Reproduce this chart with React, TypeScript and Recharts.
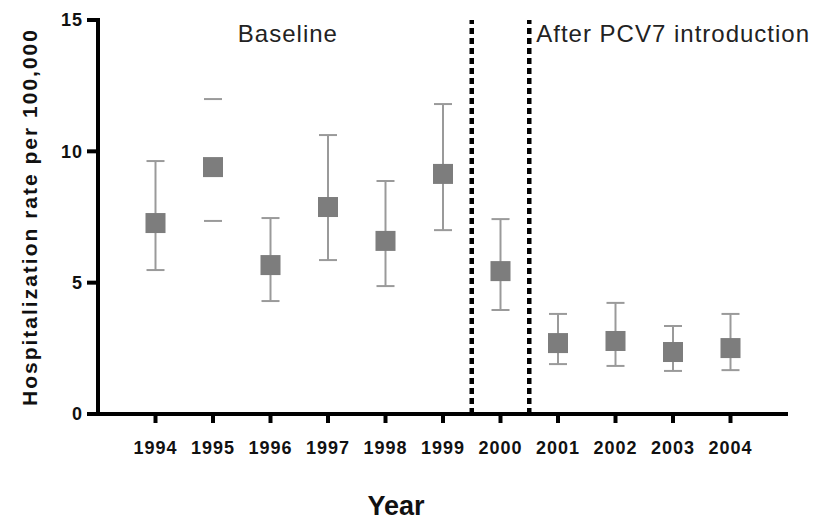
import {
  ErrorBar,
  ReferenceArea,
  ReferenceLine,
  Scatter,
  ScatterChart,
  XAxis,
  YAxis,
} from "recharts";

// values (rate per 100,000, with 95% CI ends)
const years = [1994, 1995, 1996, 1997, 1998, 1999, 2000, 2001, 2002, 2003, 2004];
const rates = [7.27, 9.4, 5.67, 7.88, 6.59, 9.14, 5.44, 2.7, 2.78, 2.36, 2.51];
const lowerCI = [5.48, 7.35, 4.3, 5.86, 4.87, 7.0, 3.96, 1.9, 1.83, 1.64, 1.67];
const upperCI = [9.63, 11.99, 7.46, 10.62, 8.87, 11.8, 7.42, 3.81, 4.23, 3.35, 3.81];
// 1995 is drawn with cap marks only (no whisker line) in the original
const capsOnlyYears = [1995];

const yTicks = [0, 5, 10, 15];
const periodSplits = [1999.5, 2000.5];

const points = years.map((year, i) => ({
  year,
  rate: rates[i],
  err: capsOnlyYears.includes(year) ? [0, 0] : [rates[i] - lowerCI[i], upperCI[i] - rates[i]],
}));

const capPoints = years.flatMap((year, i) =>
  capsOnlyYears.includes(year)
    ? [
        { year, rate: lowerCI[i] },
        { year, rate: upperCI[i] },
      ]
    : []
);

const FONT = '"Liberation Sans", Arial, sans-serif';
const GREY = "#7d7d7d";
const WHISKER = "#9a9a9a";

const Square = (props: any) => {
  const { cx, cy } = props;
  return <rect x={cx - 10} y={cy - 10} width={20} height={20} fill={GREY} />;
};

const Cap = (props: any) => {
  const { cx, cy } = props;
  return <line x1={cx - 9} x2={cx + 9} y1={cy} y2={cy} stroke={WHISKER} strokeWidth={2} />;
};

export default function App() {
  const tickStyle = { fill: "#111", fontFamily: FONT, fontWeight: 700, fontSize: 18, letterSpacing: 1 };
  return (
    <div style={{ position: "absolute", left: 0, top: 0, background: "#fff" }}>
      <ScatterChart width={821} height={522} margin={{ top: 20, right: 33, bottom: 0, left: 0 }}>
        <XAxis
          type="number"
          dataKey="year"
          domain={[1993, 2005]}
          ticks={years}
          interval={0}
          allowDecimals={false}
          height={108}
          axisLine={{ stroke: "#000", strokeWidth: 4 }}
          tickLine={{ stroke: "#000", strokeWidth: 4 }}
          tickSize={9}
          tickMargin={18}
          tick={tickStyle}
          label={{
            value: "Year",
            position: "insideBottom",
            offset: 7,
            dx: -47,
            style: { fontFamily: FONT, fontWeight: 700, fontSize: 27, fill: "#111" },
          }}
        />
        <YAxis
          type="number"
          dataKey="rate"
          domain={[0, 15]}
          ticks={yTicks}
          width={98}
          axisLine={{ stroke: "#000", strokeWidth: 4, strokeLinecap: "square" }}
          tickLine={{ stroke: "#000", strokeWidth: 4 }}
          tickSize={11}
          tickMargin={4}
          tick={tickStyle}
          label={{
            value: "Hospitalization rate per 100,000",
            position: "center",
            angle: -90,
            dx: -19,
            style: { fontFamily: FONT, fontWeight: 700, fontSize: 21, letterSpacing: 2, fill: "#111" },
          }}
        />
        <ReferenceArea
          x1={1993}
          x2={periodSplits[0]}
          fill="none"
          stroke="none"
          label={{
            value: "Baseline",
            position: "insideTop",
            offset: 5,
            dx: 3,
            style: { fontFamily: FONT, fontSize: 24, letterSpacing: 1, fill: "#222" },
          }}
        />
        <ReferenceLine x={periodSplits[0]} stroke="#000" strokeWidth={4.5} strokeDasharray="6 4" />
        <ReferenceLine
          x={periodSplits[1]}
          stroke="#000"
          strokeWidth={4.5}
          strokeDasharray="6 4"
          label={{
            value: "After PCV7 introduction",
            position: "insideTopLeft",
            offset: 7,
            dy: -2,
            style: { fontFamily: FONT, fontSize: 24, letterSpacing: 1, fill: "#222" },
          }}
        />
        <Scatter data={capPoints} shape={<Cap />} isAnimationActive={false} />
        <Scatter data={points} shape={<Square />} isAnimationActive={false}>
          <ErrorBar dataKey="err" direction="y" width={9} stroke={WHISKER} strokeWidth={2} />
        </Scatter>
      </ScatterChart>
    </div>
  );
}
